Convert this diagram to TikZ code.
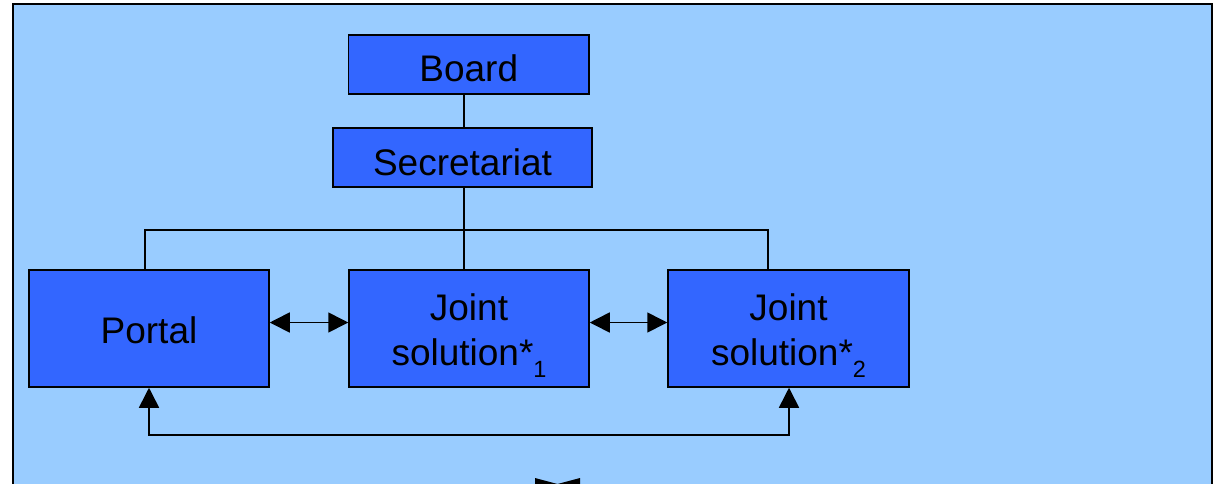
\documentclass[tikz,border=0pt]{standalone}
\usepackage{fontspec}
\setmainfont{Liberation Sans}
\usetikzlibrary{arrows.meta}
\definecolor{bgblue}{HTML}{99CCFF}
\definecolor{boxblue}{HTML}{3366FF}
\newcommand{\dnshift}[2]{\raisebox{-#1}[\height][\depth]{#2}}
\newcommand{\subidx}[1]{\raisebox{-12.4pt}{\fontsize{23.5}{23.5}\selectfont #1}}
\begin{document}
\begin{tikzpicture}[x=1pt,y=-1pt,
  box/.style={draw=black, line width=1.5pt, fill=boxblue, rectangle, inner sep=0pt,
    align=center, font=\fontsize{37}{45}\selectfont},
  conn/.style={draw=black, line width=1.6pt},
  tip/.style={conn, {Triangle[length=20pt,width=20pt]}-{Triangle[length=20pt,width=20pt]}}
]
\useasboundingbox (0,0) rectangle (1215,483);
\fill[white] (0,0) rectangle (1215,483);
\draw[fill=bgblue, draw=black, line width=1.8pt] (13,4) rectangle (1212,500);

\node[box, minimum width=240.5pt, minimum height=59pt] (board) at (468.75,64.5) {\dnshift{4pt}{Board}};
\node[box, minimum width=259pt, minimum height=59pt] (secr) at (462.5,157.5) {\dnshift{4.5pt}{Secretariat}};
\node[box, minimum width=240pt, minimum height=117pt] (portal) at (149,328.5) {\dnshift{1.5pt}{Portal}};
\node[box, minimum width=240pt, minimum height=117pt] (j1) at (469,328.5)
  {\dnshift{5pt}{\begin{tabular}{@{}c@{}}Joint\\solution*\subidx{1}\end{tabular}}};
\node[box, minimum width=241pt, minimum height=117pt] (j2) at (788.5,328.5)
  {\dnshift{5pt}{\begin{tabular}{@{}c@{}}Joint\\solution*\subidx{2}\end{tabular}}};

\coordinate (vx) at (464,0);
\coordinate (pl) at (145,230);
\coordinate (pr) at (768,230);
\coordinate (ay) at (0,322.5);
\coordinate (bl) at (149,435);
\coordinate (br) at (789,435);

\draw[conn] (board.south -| vx) -- (secr.north -| vx);
\draw[conn] (secr.south -| vx) -- (j1.north -| vx);
\draw[conn] (portal.north -| pl) -- (pl) -- (pr) -- (j2.north -| pr);

\draw[tip] (portal.east |- ay) -- (j1.west |- ay);
\draw[tip] (j1.east |- ay) -- (j2.west |- ay);
\draw[tip] (portal.south -| bl) -- (bl) -- (br) -- (j2.south -| br);

\fill[black] (535,478) -- (557.5,484) -- (580,478) -- (580,495) -- (535,495) -- cycle;
\end{tikzpicture}
\end{document}
